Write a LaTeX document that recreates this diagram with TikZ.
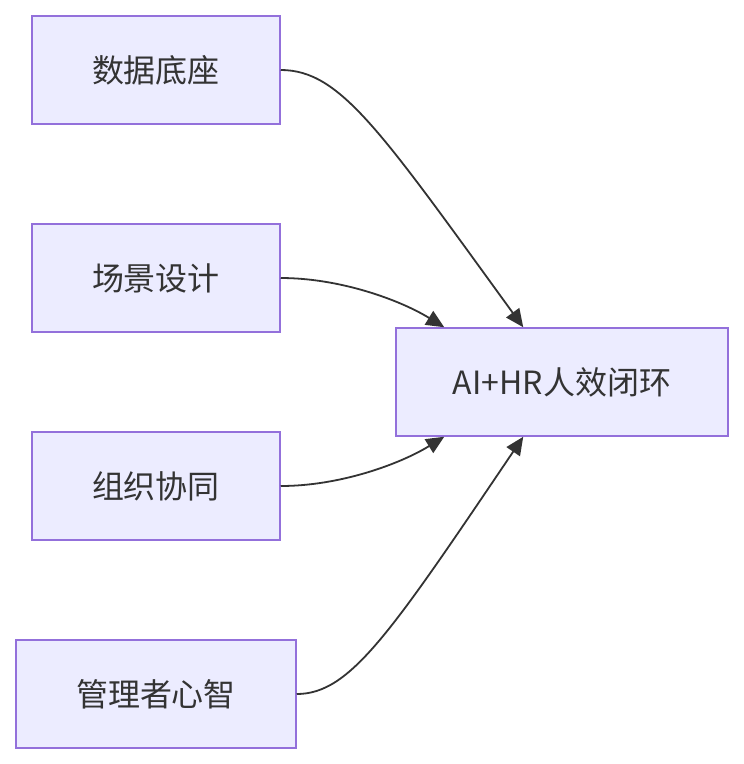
\documentclass[tikz,border=0pt]{standalone}
\usepackage{fontspec}
\setmainfont{Noto Sans CJK SC}
\usetikzlibrary{arrows.meta}
\definecolor{boxfill}{HTML}{ECECFF}
\definecolor{boxline}{HTML}{9370DB}
\definecolor{edgeline}{HTML}{333333}
\begin{document}
\begin{tikzpicture}[x=1pt,y=-1pt,
  box/.style={draw=boxline,fill=boxfill,line width=1.5pt,minimum height=108pt,inner sep=0pt,
    font=\fontsize{32}{38}\selectfont,text=edgeline},
  edge/.style={draw=edgeline,line width=1.8pt,-{Triangle[length=18pt,width=16pt]}}]
\useasboundingbox (0,0) rectangle (744,764);
\node[box,minimum width=248pt] (a) at (156,70) {数据底座};
\node[box,minimum width=248pt] (b) at (156,278) {场景设计};
\node[box,minimum width=248pt] (c) at (156,486) {组织协同};
\node[box,minimum width=280pt] (d) at (156,694) {管理者心智};
\node[box,minimum width=332pt] (t) at (562,382) {AI+HR人效闭环};
\draw[edge] (a.east) .. controls (340,70) and (380,130) .. ([xshift=128pt]t.north west);
\draw[edge] (b.east) .. controls (340,278) and (400,300) .. ([xshift=49pt]t.north west);
\draw[edge] (c.east) .. controls (340,486) and (400,464) .. ([xshift=49pt]t.south west);
\draw[edge] (d.east) .. controls (350,694) and (390,634) .. ([xshift=128pt]t.south west);
\end{tikzpicture}
\end{document}
